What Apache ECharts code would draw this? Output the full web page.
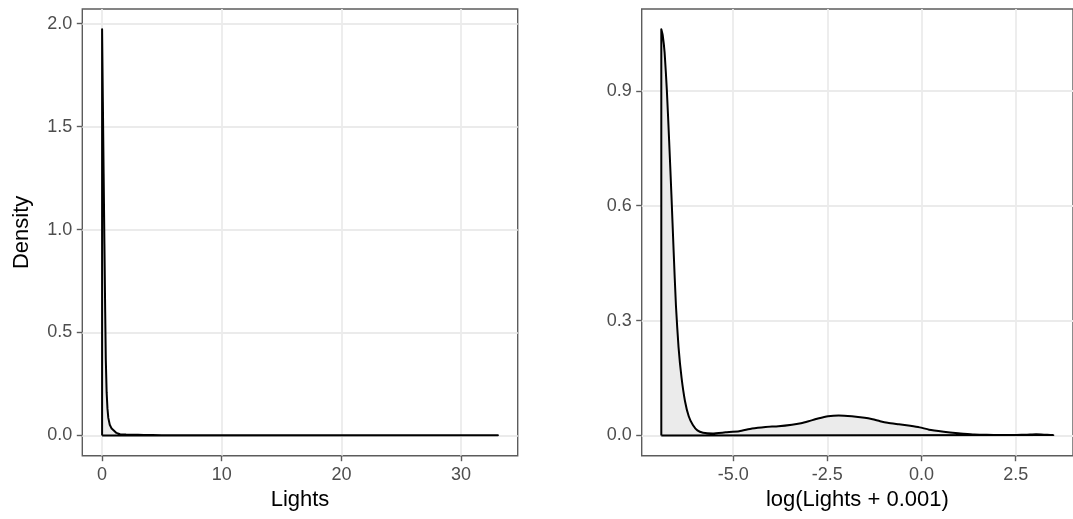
<!DOCTYPE html>
<html>
<head>
<meta charset="utf-8">
<script src="https://cdn.jsdelivr.net/npm/echarts@6/dist/echarts.min.js"></script>
<style>
  html, body { margin: 0; padding: 0; background: #ffffff; }
  #chart { width: 1073px; height: 519px; }
</style>
</head>
<body>
<div id="chart"></div>
<script>
// Kernel density of raw Lights values (x, density)
const lightsX = [0, 0.065, 0.13, 0.195, 0.26, 0.31, 0.38, 0.45, 0.52, 0.64, 0.8, 0.95, 1.2, 1.5, 2.0, 2.5, 3.0, 3.5, 4.2, 5.0, 6.0, 8.0, 10.0, 12.5, 14.0, 17.0, 19.2, 20.5, 21.2, 24.0, 28.0, 33.08];
const lightsDensity = [1.973, 1.62, 1.27, 0.93, 0.60, 0.37, 0.21, 0.13, 0.085, 0.052, 0.033, 0.024, 0.012, 0.006, 0.004, 0.0035, 0.003, 0.0025, 0.002, 0.0012, 0.001, 0.0005, 0.0004, 0.0012, 0.0003, 0.0002, 0.0012, 0.0006, 0.0009, 0.0002, 0.0001, 0.0001];

// Kernel density of log(Lights + 0.001)
const logX = [-6.908, -6.87, -6.82, -6.76, -6.70, -6.64, -6.58, -6.52, -6.45, -6.37, -6.28, -6.18, -6.07, -5.95, -5.80, -5.55, -5.2, -4.84, -4.5, -4.14, -3.8, -3.44, -3.2, -3.0, -2.75, -2.48, -2.2, -1.85, -1.51, -1.3, -1.1, -0.9, -0.6, -0.3, -0.05, 0.2, 0.59, 0.9, 1.11, 1.4, 1.73, 2.1, 2.51, 2.8, 3.04, 3.25, 3.50];
const logDensity = [1.061, 1.045, 1.00, 0.90, 0.77, 0.63, 0.48, 0.34, 0.23, 0.15, 0.09, 0.05, 0.027, 0.013, 0.007, 0.005, 0.008, 0.011, 0.018, 0.022, 0.024, 0.028, 0.032, 0.037, 0.044, 0.050, 0.052, 0.050, 0.046, 0.042, 0.037, 0.033, 0.029, 0.025, 0.021, 0.015, 0.0096, 0.006, 0.0044, 0.0025, 0.0015, 0.001, 0.0012, 0.002, 0.003, 0.002, 0.0012];

// Tick positions
const lightsTicks = [0, 10, 20, 30];
const densityTicksLeft = [0, 0.5, 1.0, 1.5, 2.0];
const logTicks = [-5, -2.5, 0, 2.5];
const densityTicksRight = [0, 0.3, 0.6, 0.9];

// Closed outline: baseline up to the curve, along it, and back along zero
function polygon(xs, ys) {
  const pts = [[xs[0], 0]];
  for (let i = 0; i < xs.length; i++) pts.push([xs[i], ys[i]]);
  pts.push([xs[xs.length - 1], 0]);
  pts.push([xs[0], 0]);
  return pts;
}

// Padded range, 5% on each side of the data
function padded(lo, hi) {
  const d = (hi - lo) * 0.05;
  return [lo - d, hi + d];
}

const FONT = 'Liberation Sans, Arial, sans-serif';
const LW = 2;
const FRAME = '#5c5c5c';

function valueAxis(range, ticks, fmt, extra) {
  return Object.assign({
    type: 'value',
    min: range[0],
    max: range[1],
    axisLine: { show: false, onZero: false },
    axisTick: { show: true, length: 5.5, customValues: ticks, lineStyle: { color: FRAME, width: 1.4 } },
    axisLabel: { customValues: ticks, formatter: fmt, margin: 10, color: '#4d4d4d', fontSize: 18, fontFamily: FONT },
    splitLine: { show: true, lineStyle: { color: '#ebebeb', width: 1.8 } },
    nameTextStyle: { color: '#000000', fontSize: 22, fontFamily: FONT }
  }, extra || {});
}

const xL = padded(0, 33.08);
const yL = padded(0, 1.973);
const xR = padded(-6.908, 3.50);
const yR = padded(0, 1.061);

const chart = echarts.init(document.getElementById('chart'), null, { renderer: 'canvas' });
chart.setOption({
  animation: false,
  backgroundColor: '#ffffff',
  grid: [
    { left: 82.3, top: 9, width: 435.4, height: 446.7, show: true, borderColor: FRAME, borderWidth: 1.4, backgroundColor: 'transparent' },
    { left: 641.7, top: 9, width: 435.7, height: 446.7, show: true, borderColor: FRAME, borderWidth: 1.4, backgroundColor: 'transparent' }
  ],
  xAxis: [
    valueAxis(xL, lightsTicks, v => String(v), { gridIndex: 0, name: 'Lights', nameLocation: 'middle', nameGap: 32 }),
    valueAxis(xR, logTicks, v => v.toFixed(1), { gridIndex: 1, name: 'log(Lights + 0.001)', nameLocation: 'middle', nameGap: 32 })
  ],
  yAxis: [
    valueAxis(yL, densityTicksLeft, v => v.toFixed(1), { gridIndex: 0, name: 'Density', nameLocation: 'middle', nameGap: 49 }),
    valueAxis(yR, densityTicksRight, v => v.toFixed(1), { gridIndex: 1 })
  ],
  series: [
    {
      type: 'line', xAxisIndex: 0, yAxisIndex: 0,
      data: polygon(lightsX, lightsDensity),
      showSymbol: false, symbol: 'none',
      lineStyle: { color: '#000000', width: LW, join: 'round' },
      areaStyle: { color: '#ebebeb', opacity: 1, origin: 0 }
    },
    {
      type: 'line', xAxisIndex: 1, yAxisIndex: 1,
      data: polygon(logX, logDensity),
      smooth: 0.2,
      showSymbol: false, symbol: 'none',
      lineStyle: { color: '#000000', width: LW, join: 'round' },
      areaStyle: { color: '#ebebeb', opacity: 1, origin: 0 }
    }
  ]
});
</script>
</body>
</html>
